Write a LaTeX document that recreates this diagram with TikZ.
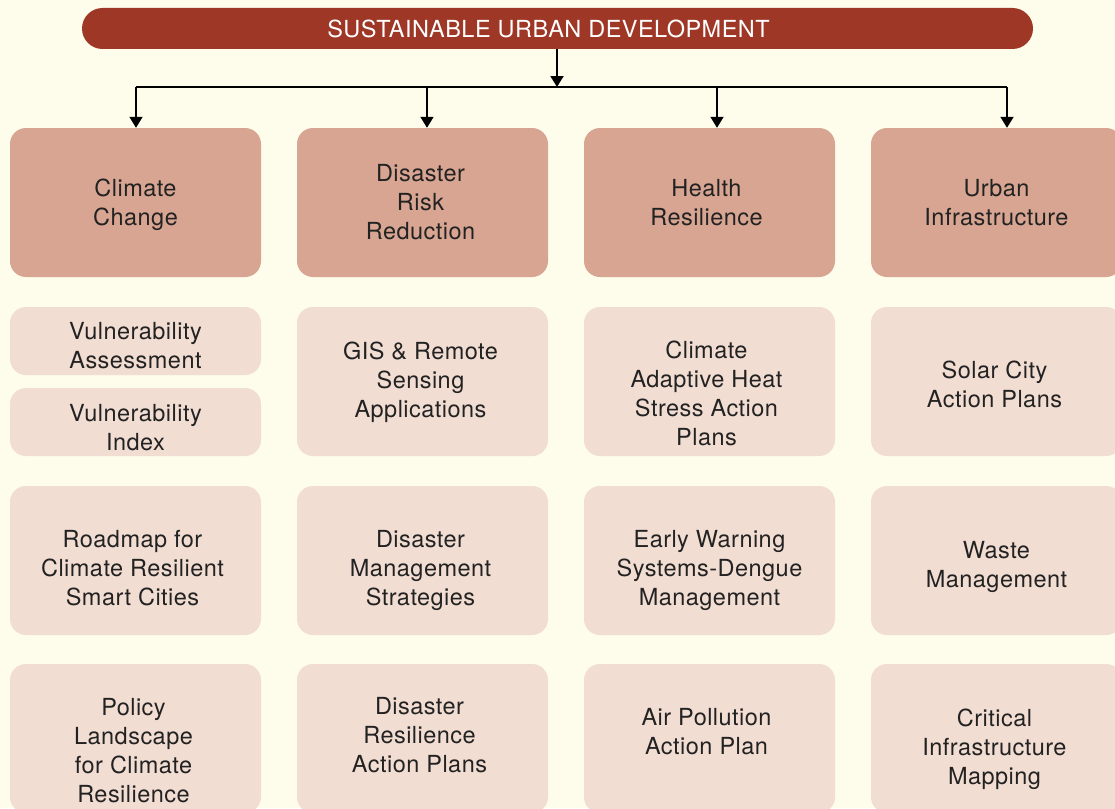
\documentclass[tikz,border=0pt]{standalone}
\usepackage{fontspec}
\setmainfont{TeX Gyre Heros}[LetterSpace=2.0]
\usetikzlibrary{arrows.meta}
\definecolor{bgc}{HTML}{FEFCEB}
\definecolor{titlec}{HTML}{9E3726}
\definecolor{hdrc}{HTML}{D8A592}
\definecolor{subc}{HTML}{F2DDD3}
\definecolor{txtc}{HTML}{222222}
\tikzset{
  hdr/.style={rectangle, rounded corners=16, fill=hdrc, minimum width=251, minimum height=149, inner sep=0},
  sub/.style={rectangle, rounded corners=16, fill=subc, minimum width=251, minimum height=149, inner sep=0},
  half/.style={sub, minimum height=68},
  txt/.style={align=center, font=\fontsize{23.5}{29}\selectfont, text=txtc, inner sep=0},
  conn/.style={line width=1.8pt, draw=black},
  arr/.style={conn, -{Triangle[width=13pt,length=11pt]}},
}
\begin{document}
\begin{tikzpicture}[x=1pt,y=-1pt]
\fill[bgc] (0,0) rectangle (1115,808);
\useasboundingbox (0,0) rectangle (1115,808);
\clip (0,0) rectangle (1115,808);
% title
\node[rectangle, rounded corners=20.5, fill=titlec, minimum width=951, minimum height=41, inner sep=0,
  label={[txt, text=white, font=\fontsize{23.5}{29}\selectfont, xshift=-9]center:SUSTAINABLE URBAN DEVELOPMENT}] (t) at (557.5,28.5) {};
% headers
\node[hdr, label={[txt,yshift=-2]center:{Climate\\Change}}] (h1) at (135.5,202.5) {};
\node[hdr, label={[txt,xshift=-2]center:{Disaster\\Risk\\Reduction}}] (h2) at (422.5,202.5) {};
\node[hdr, label={[txt,xshift=-3]center:{Health\\Resilience}}] (h3) at (709.5,202.5) {};
\node[hdr, label={[txt]center:{Urban\\Infrastructure}}] (h4) at (996.5,202.5) {};
% row 2
\node[half, label={[txt,yshift=-5]center:{Vulnerability\\Assessment}}] (a1) at (135.5,341) {};
\node[half, label={[txt,yshift=-6]center:{Vulnerability\\Index}}] (a1b) at (135.5,422) {};
\node[sub, label={[txt,xshift=-2,yshift=-1]center:{GIS \& Remote\\Sensing\\Applications}}] (a2) at (422.5,381.5) {};
\node[sub, label={[txt,xshift=-3,yshift=-12]center:{Climate\\Adaptive Heat\\Stress Action\\Plans}}] (a3) at (709.5,381.5) {};
\node[sub, label={[txt,xshift=-2,yshift=-3]center:{Solar City\\Action Plans}}] (a4) at (996.5,381.5) {};
% row 3
\node[sub, label={[txt,yshift=-8,xshift=-3]center:{Roadmap for\\Climate Resilient\\Smart Cities}}] (b1) at (135.5,560.5) {};
\node[sub, label={[txt,xshift=-2,yshift=-10]center:{Disaster\\Management\\Strategies}}] (b2) at (422.5,560.5) {};
\node[sub, label={[txt,yshift=-10]center:{Early Warning\\Systems-Dengue\\Management}}] (b3) at (709.5,560.5) {};
\node[sub, label={[txt,yshift=-6]center:{Waste\\Management}}] (b4) at (996.5,560.5) {};
% row 4
\node[sub, label={[txt,xshift=-2,yshift=-12]center:{Policy\\Landscape\\for Climate\\Resilience}}] (c1) at (135.5,738.5) {};
\node[sub, label={[txt,xshift=-3,yshift=3]center:{Disaster\\Resilience\\Action Plans}}] (c2) at (422.5,738.5) {};
\node[sub, label={[txt,xshift=-3,yshift=7]center:{Air Pollution\\Action Plan}}] (c3) at (709.5,738.5) {};
\node[sub, label={[txt,xshift=-2,yshift=-11]center:{Critical\\Infrastructure\\Mapping}}] (c4) at (996.5,738.5) {};
% connectors
\coordinate (bus) at (557,87);
\draw[arr] (t.south -| bus) -- (bus);
\draw[conn] ([xshift=0.5]h1.north |- bus) -- ([xshift=10.5]h4.north |- bus);
\draw[arr] ([xshift=0.5]h1.north |- bus) -- ([xshift=0.5]h1.north);
\draw[arr] ([xshift=4.5]h2.north |- bus) -- ([xshift=4.5]h2.north);
\draw[arr] ([xshift=7.5]h3.north |- bus) -- ([xshift=7.5]h3.north);
\draw[arr] ([xshift=10.5]h4.north |- bus) -- ([xshift=10.5]h4.north);
\end{tikzpicture}
\end{document}
